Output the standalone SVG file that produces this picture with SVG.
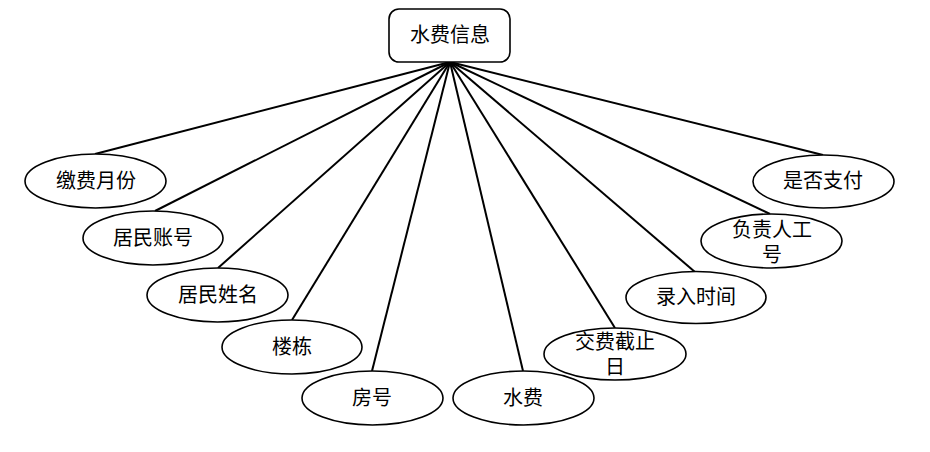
<svg xmlns="http://www.w3.org/2000/svg" width="930" height="452" viewBox="0 0 930 452">
<style>
.n{fill:#fff;stroke:#000;stroke-width:1.6}
.t{font-family:"Liberation Sans","Noto Sans CJK SC",sans-serif;font-size:20px;fill:#000;text-anchor:middle}
.c line{stroke:#000;stroke-width:2}
</style>
<rect width="930" height="452" fill="#fff"/>
<g class="c" id="connectors">
<line x1="450" y1="62" x2="95" y2="154"/>
<line x1="450" y1="62" x2="155" y2="211"/>
<line x1="450" y1="62" x2="218" y2="268"/>
<line x1="450" y1="62" x2="292" y2="320"/>
<line x1="450" y1="62" x2="372" y2="371"/>
<line x1="450" y1="62" x2="523" y2="371"/>
<line x1="450" y1="62" x2="615" y2="328"/>
<line x1="450" y1="62" x2="695" y2="272"/>
<line x1="450" y1="62" x2="770" y2="214"/>
<line x1="450" y1="62" x2="823" y2="155"/>
</g>
<g id="root"><rect class="n" x="389" y="9" width="121" height="53" rx="10"/><text class="t" x="450" y="42">水费信息</text></g>
<g id="n1"><ellipse class="n" cx="95.5" cy="181" rx="70.5" ry="27"/><text class="t" x="96" y="188">缴费月份</text></g>
<g id="n2"><ellipse class="n" cx="153" cy="238" rx="70" ry="27"/><text class="t" x="153" y="245">居民账号</text></g>
<g id="n3"><ellipse class="n" cx="217.5" cy="295" rx="70.5" ry="27"/><text class="t" x="218" y="302">居民姓名</text></g>
<g id="n4"><ellipse class="n" cx="292" cy="347" rx="70" ry="27"/><text class="t" x="292" y="354">楼栋</text></g>
<g id="n5"><ellipse class="n" cx="372.5" cy="398" rx="70.5" ry="27"/><text class="t" x="372" y="405">房号</text></g>
<g id="n6"><ellipse class="n" cx="523.5" cy="398" rx="70.5" ry="27"/><text class="t" x="523" y="405">水费</text></g>
<g id="n7"><ellipse class="n" cx="615" cy="354" rx="71" ry="26"/><text class="t" x="615" y="349">交费截止</text><text class="t" x="615" y="374">日</text></g>
<g id="n8"><ellipse class="n" cx="696" cy="297.5" rx="70" ry="26"/><text class="t" x="696" y="304">录入时间</text></g>
<g id="n9"><ellipse class="n" cx="771.5" cy="241" rx="70.5" ry="27"/><text class="t" x="772" y="237">负责人工</text><text class="t" x="772" y="262">号</text></g>
<g id="n10"><ellipse class="n" cx="823.5" cy="181.5" rx="70.5" ry="26.5"/><text class="t" x="823" y="188">是否支付</text></g>
</svg>
